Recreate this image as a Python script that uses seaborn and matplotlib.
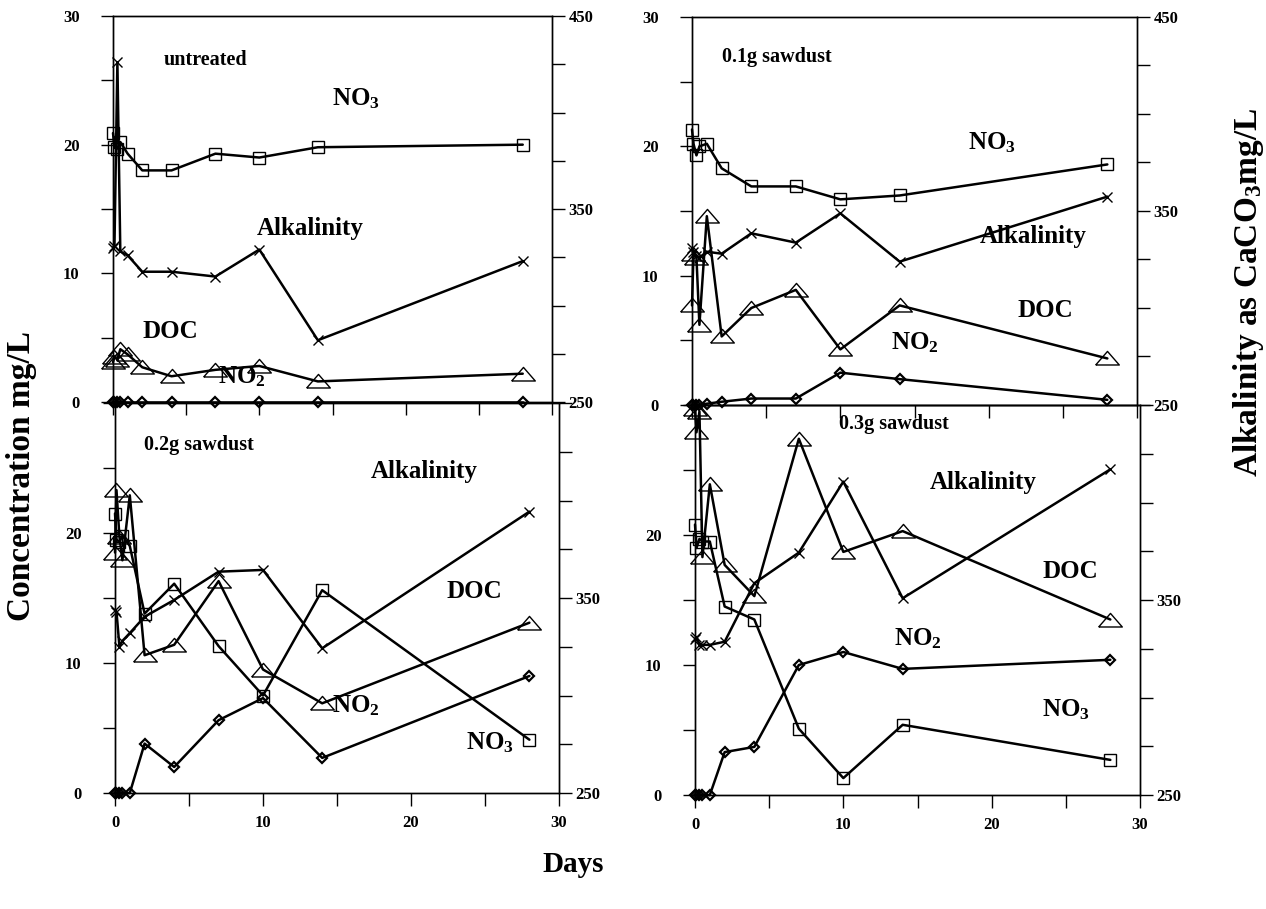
import matplotlib
matplotlib.use('Agg')
import matplotlib.pyplot as plt
import seaborn as sns

sns.set_style('white')
plt.rcParams['font.family'] = ['Liberation Serif', 'DejaVu Serif']
plt.rcParams['font.weight'] = 'bold'
plt.rcParams['mathtext.fontset'] = 'custom'
plt.rcParams['mathtext.rm'] = 'Liberation Serif:bold'
plt.rcParams['mathtext.bf'] = 'Liberation Serif:bold'
plt.rcParams['mathtext.it'] = 'Liberation Serif:bold:italic'
plt.rcParams['axes.edgecolor'] = 'black'
plt.rcParams['axes.linewidth'] = 1.0
plt.rcParams['xtick.color'] = 'black'
plt.rcParams['ytick.color'] = 'black'
plt.rcParams['text.color'] = 'black'

# sampling times (days)
days = [0, 0.1, 0.3, 0.5, 1, 2, 4, 7, 10, 14, 28]

# untreated
untreated_no3 = [20.9, 19.8, 19.7, 20.2, 19.3, 18.0, 18.0, 19.3, 19.0, 19.8, 20.0]
untreated_no2 = [0, 0, 0, 0, 0, 0, 0, 0, 0, 0, 0]
untreated_doc = [3.1, 3.5, 3.3, 4.1, 3.7, 2.7, 2.0, 2.5, 2.8, 1.6, 2.2]
untreated_alk = [330, 331, 426, 328, 326, 317.5, 317.5, 315, 329, 282, 323]

# 0.1g sawdust
saw01_no3 = [21.3, 20.2, 19.3, 20.0, 20.2, 18.3, 16.9, 16.9, 15.9, 16.2, 18.6]
saw01_no2 = [0, 0, 0, 0, 0.1, 0.25, 0.5, 0.5, 2.5, 2.0, 0.4]
saw01_doc = [7.7, 11.7, 11.4, 6.2, 14.6, 5.3, 7.5, 8.9, 4.3, 7.7, 3.6]
saw01_alk = [331, 329, 327, 326, 329, 328, 338.5, 333.7, 348.8, 323.9, 357.4]

# 0.2g sawdust
saw02_no3 = [21.5, 19.5, 19.3, 19.8, 19.0, 13.8, 16.1, 11.3, 7.5, 15.6, 4.1]
saw02_no2 = [0, 0, 0, 0, 0, 3.8, 2.0, 5.6, 7.3, 2.7, 9.0]
saw02_doc = [18.5, 23.3, 19.7, 17.9, 22.9, 10.6, 11.4, 16.3, 9.5, 6.9, 13.1]
saw02_alk = [344, 343, 325, 328, 332, 340.4, 349, 363.5, 364.4, 324.2, 394.3]

# 0.3g sawdust
saw03_no3 = [20.8, 19.0, 19.7, 19.5, 19.5, 14.5, 13.5, 5.1, 1.3, 5.4, 2.7]
saw03_no2 = [0, 0, 0, 0, 0, 3.3, 3.7, 10.0, 11.0, 9.7, 10.4]
saw03_doc = [29.7, 27.9, 29.5, 18.3, 23.9, 17.7, 15.3, 27.4, 18.7, 20.3, 13.5]
saw03_alk = [330, 331, 327, 327, 327, 328.6, 358.6, 374.3, 410.7, 350.9, 417.0]

W, H = 1266, 909
fig = plt.figure(figsize=(W / 100, H / 100), dpi=100)

# wide open triangle marker
tri = [(-1, -0.55), (1, -0.55), (0, 0.6), (-1, -0.55)]

def box(l, t, r, b):
    return [l / W, 1 - b / H, (r - l) / W, (b - t) / H]

def panel(rect, no3, no2, doc, alk, top, notes):
    ax = fig.add_axes(rect)
    ax.set_facecolor('none')
    ax2 = ax.twinx()
    ax2.set_facecolor('none')

    common = dict(color='black', linewidth=1.8, clip_on=False, markeredgecolor='black')
    sns.lineplot(x=days, y=no3, ax=ax, marker='s', markersize=8,
                 markerfacecolor='none', markeredgewidth=1.0, **common)
    sns.lineplot(x=days, y=doc, ax=ax, marker=tri, markersize=17,
                 markerfacecolor='none', markeredgewidth=1.0, **common)
    sns.lineplot(x=days, y=no2, ax=ax, marker='D', markersize=5.5,
                 markerfacecolor='none', markeredgewidth=1.6, **common)
    sns.lineplot(x=days, y=alk, ax=ax2, marker='x', markersize=7,
                 markeredgewidth=1.0, **common)

    ax.set_xlim(0, 30)
    ax.set_ylim(0, 30)
    ax2.set_ylim(250, 450)
    ax.set_xticks(range(0, 31, 5))
    ax.set_xticklabels(['0', '', '10', '', '20', '', '30'])
    ax.set_yticks(range(0, 31, 5))
    ax2.set_yticks(range(250, 451, 25))
    if top:
        ax.set_yticklabels(['0', '', '10', '', '20', '', '30'])
        ax2.set_yticklabels(['250', '', '', '', '350', '', '', '', '450'])
    else:
        ax.set_yticklabels(['0', '', '10', '', '20', '', ''])
        ax2.set_yticklabels(['250', '', '', '', '350', '', '', '', ''])
    ax.set_xlabel('')
    ax.set_ylabel('')
    ax2.set_ylabel('')

    ax.tick_params(direction='out', length=9, width=1.0, labelsize=12,
                   bottom=True, left=True, top=False, right=False)
    ax.tick_params(axis='y', pad=15)
    ax.tick_params(axis='x', pad=7, labelbottom=not top)
    ax2.tick_params(axis='y', direction='out', length=9, width=1.0,
                    labelsize=12, pad=3, right=True, left=False)

    for x, y, s, size in notes:
        ax.text(x, y, s, fontsize=size, ha='center', va='center')

panel(box(113, 16, 552, 402), untreated_no3, untreated_no2, untreated_doc, untreated_alk, True,
      [(6.3, 26.6, 'untreated', 14.5), (16.6, 23.6, r'NO$_3$', 18),
       (13.5, 13.5, 'Alkalinity', 18), (3.9, 5.5, 'DOC', 18), (8.8, 2.0, r'NO$_2$', 18)])
panel(box(692, 17, 1137, 405), saw01_no3, saw01_no2, saw01_doc, saw01_alk, True,
      [(5.7, 26.9, '0.1g sawdust', 14.5), (20.2, 20.3, r'NO$_3$', 18),
       (23.0, 13.0, 'Alkalinity', 18), (23.8, 7.3, 'DOC', 18), (15.0, 4.8, r'NO$_2$', 18)])
panel(box(115, 403, 559, 793), saw02_no3, saw02_no2, saw02_doc, saw02_alk, False,
      [(5.7, 26.8, '0.2g sawdust', 14.5), (20.9, 24.7, 'Alkalinity', 18),
       (24.3, 15.5, 'DOC', 18), (16.3, 6.7, r'NO$_2$', 18), (25.3, 3.9, r'NO$_3$', 18)])
panel(box(695, 405, 1140, 795), saw03_no3, saw03_no2, saw03_doc, saw03_alk, False,
      [(13.4, 28.5, '0.3g sawdust', 14.5), (19.4, 24.0, 'Alkalinity', 18),
       (25.3, 17.2, 'DOC', 18), (15.0, 12.0, r'NO$_2$', 18), (25.0, 6.6, r'NO$_3$', 18)])

fig.text(22 / W, 1 - 476 / H, 'Concentration mg/L', rotation=90, fontsize=24,
         ha='center', va='center')
fig.text(1248 / W, 1 - 292 / H, r'Alkalinity as CaCO$_3$mg/L', rotation=90, fontsize=24,
         ha='center', va='center')
fig.text(573 / W, 1 - 865 / H, 'Days', fontsize=21, ha='center', va='center')

fig.savefig('out.png', dpi=100)
